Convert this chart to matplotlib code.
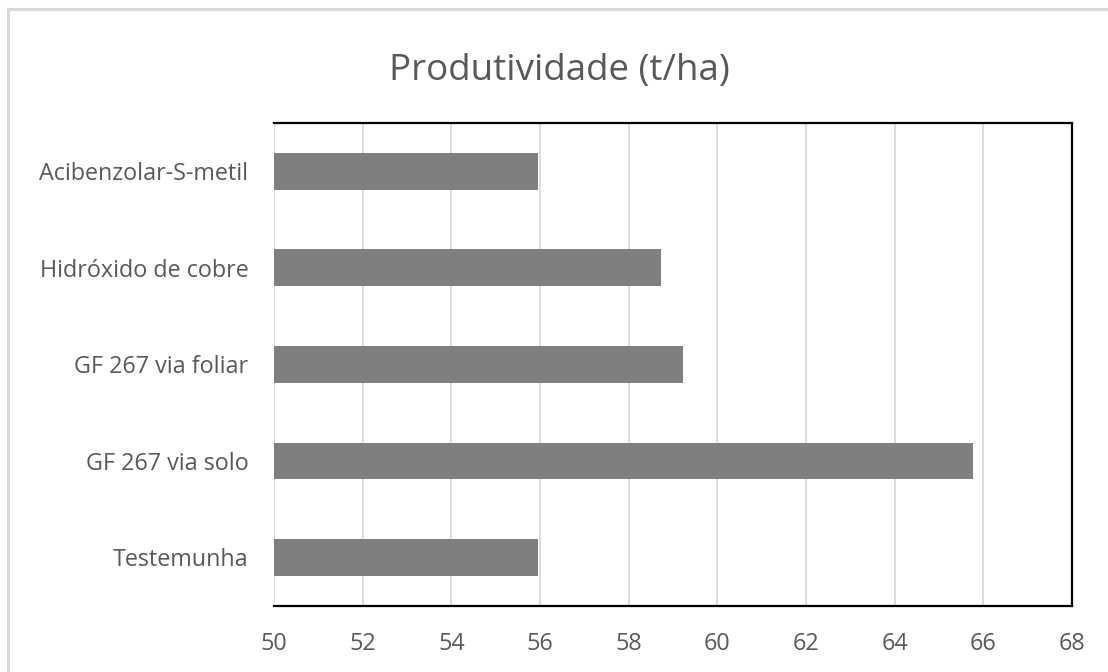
import matplotlib.pyplot as plt
from matplotlib.patches import Rectangle

# treatments, listed bottom to top as drawn
treatments = ["Testemunha", "GF 267 via solo", "GF 267 via foliar",
              "Hidróxido de cobre", "Acibenzolar-S-metil"]
yields = [55.95, 65.76, 59.23, 58.74, 55.95]
x_ticks = list(range(50, 69, 2))

plt.rcParams['font.family'] = ['Open Sans', 'DejaVu Sans']
text_color = "#595959"

fig = plt.figure(figsize=(11.08, 6.72), dpi=100)
ax = fig.add_axes([0.2473, 0.0987, 0.7202, 0.7183])

ax.barh(range(len(treatments)), yields, height=0.38, left=0,
        color="#7f7f7f", zorder=3)

ax.set_xlim(50, 68)
ax.set_ylim(-0.5, len(treatments) - 0.5)
ax.set_xticks(x_ticks)
ax.set_yticks(range(len(treatments)))
ax.set_yticklabels(treatments)
ax.grid(axis="x", color="#d9d9d9", linewidth=1.3, zorder=0)
ax.tick_params(length=0, labelsize=16.8, labelcolor=text_color)
ax.tick_params(axis="x", pad=19)
ax.tick_params(axis="y", pad=18.5)

for side in ["top", "right", "bottom"]:
    ax.spines[side].set_color("black")
    ax.spines[side].set_linewidth(1.6)
ax.spines["left"].set_visible(False)

fig.text(0.505, 0.895, "Produtividade (t/ha)", ha="center", va="center",
         fontsize=26.5, color=text_color)

# light chart-area frame
fig.patches.append(Rectangle((8 / 1108, -0.1), 1.2, 1 - 9 / 672 + 0.1,
                             transform=fig.transFigure, fill=False,
                             edgecolor="#d9d9d9", linewidth=2.2))

fig.savefig("out.png", dpi=100)
